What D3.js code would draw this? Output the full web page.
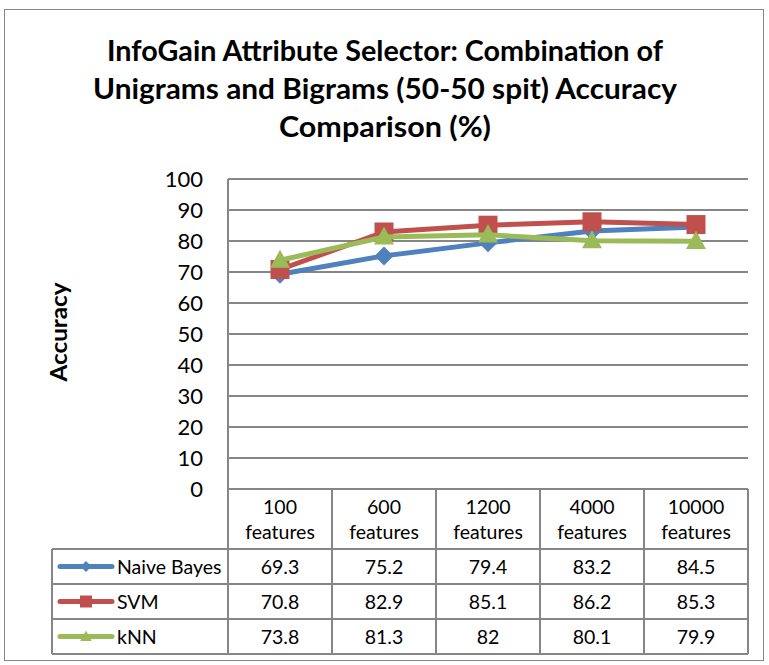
<!DOCTYPE html>
<html>
<head>
<meta charset="utf-8">
<script src="https://cdn.jsdelivr.net/npm/d3@7"></script>
<style>
  body { margin: 0; background: #fff; }
  svg { display: block; font-family: Lato, "Open Sans", sans-serif; }
</style>
</head>
<body>
<div id="chart"></div>
<script>
// Chart data
const categories = ["100 features", "600 features", "1200 features", "4000 features", "10000 features"];
const seriesNames = ["Naive Bayes", "SVM", "kNN"];
const naiveBayes = [69.3, 75.2, 79.4, 83.2, 84.5];
const svmValues = [70.8, 82.9, 85.1, 86.2, 85.3];
const knnValues = [73.8, 81.3, 82, 80.1, 79.9];
const yTicks = [0, 10, 20, 30, 40, 50, 60, 70, 80, 90, 100];
const titleLines = ["InfoGain Attribute Selector: Combination of", "Unigrams and Bigrams (50-50 spit) Accuracy", "Comparison (%)"];

const width = 769, height = 665;
const plot = { left: 228, right: 748, top: 179, bottom: 489 };
const tableLeft = 52;
const rowLines = [489, 549, 584, 619, 654];

const series = [
    { name: seriesNames[0], values: naiveBayes, color: "#4F81BD", marker: "diamond" },
    { name: seriesNames[1], values: svmValues, color: "#C0504D", marker: "square" },
    { name: seriesNames[2], values: knnValues, color: "#9BBB59", marker: "triangle" }
];

const svg = d3.select("#chart").append("svg")
    .attr("width", width)
    .attr("height", height);

// outer frame
svg.append("rect")
    .attr("x", 4.5).attr("y", 9.5)
    .attr("width", 759).attr("height", 651)
    .attr("fill", "#fff")
    .attr("stroke", "#868686");

// title
const title = svg.append("g").attr("font-weight", "bold").attr("font-size", 28).attr("text-anchor", "middle");
const titleWidths = [556, 584, 212];
titleLines.forEach((t, i) => {
    title.append("text")
        .attr("x", 385)
        .attr("y", 61 + i * 38)
        .attr("textLength", titleWidths[i])
        .attr("lengthAdjust", "spacingAndGlyphs")
        .text(t);
});

// scales
const x = d3.scaleBand().domain(categories).range([plot.left, plot.right]);
const y = d3.scaleLinear().domain([0, 100]).range([plot.bottom, plot.top]);

// gridlines
svg.append("g")
    .selectAll("line")
    .data(yTicks)
    .enter().append("line")
    .attr("x1", plot.left).attr("x2", plot.right)
    .attr("y1", d => y(d)).attr("y2", d => y(d))
    .attr("stroke", "#868686")
    .attr("stroke-width", 2);

// left axis line
svg.append("line")
    .attr("x1", plot.left).attr("x2", plot.left)
    .attr("y1", plot.top).attr("y2", plot.bottom)
    .attr("stroke", "#868686").attr("stroke-width", 2);

// y tick labels
svg.append("g")
    .attr("text-anchor", "end")
    .attr("font-size", 22)
    .selectAll("text")
    .data(yTicks)
    .enter().append("text")
    .attr("x", 203)
    .attr("y", d => y(d))
    .attr("dy", "0.36em")
    .text(d => d);

// y axis title
svg.append("text")
    .attr("transform", "translate(67,332) rotate(-90)")
    .attr("text-anchor", "middle")
    .attr("font-weight", "bold")
    .attr("font-size", 23)
    .attr("textLength", 99)
    .attr("lengthAdjust", "spacingAndGlyphs")
    .text("Accuracy");

// data table grid
const tbl = svg.append("g").attr("stroke", "#868686").attr("stroke-width", 2);
rowLines.forEach((ry, i) => {
    tbl.append("line")
        .attr("x1", i === 0 ? plot.left : tableLeft).attr("x2", plot.right)
        .attr("y1", ry).attr("y2", ry);
});
tbl.append("line").attr("x1", tableLeft).attr("x2", tableLeft)
    .attr("y1", rowLines[1]).attr("y2", rowLines[4]);
categories.forEach((c, i) => {
    tbl.append("line")
        .attr("x1", x(c)).attr("x2", x(c))
        .attr("y1", plot.bottom).attr("y2", rowLines[4]);
});
tbl.append("line").attr("x1", plot.right).attr("x2", plot.right)
    .attr("y1", plot.bottom).attr("y2", rowLines[4]);

// header labels
const header = svg.append("g").attr("text-anchor", "middle").attr("font-size", 19.5);
categories.forEach(c => {
    const parts = c.split(" ");
    parts.forEach((p, j) => {
        header.append("text")
            .attr("x", x(c) + x.bandwidth() / 2)
            .attr("y", 507 + j * 25)
            .attr("dy", "0.36em")
            .text(p);
    });
});

// marker paths
function markerPath(type, cx, cy, s) {
    if (type === "diamond") return `M${cx},${cy - s}L${cx + s},${cy}L${cx},${cy + s}L${cx - s},${cy}Z`;
    if (type === "square") return `M${cx - s},${cy - s}h${2 * s}v${2 * s}h${-2 * s}Z`;
    return `M${cx},${cy - s * 1.1}L${cx + s * 1.05},${cy + s * 0.8}L${cx - s * 1.05},${cy + s * 0.8}Z`;
}

// rows of the table with legend keys
series.forEach((s, i) => {
    const cy = (rowLines[i + 1] + rowLines[i + 2]) / 2;
    const row = svg.append("g");
    row.append("line")
        .attr("x1", 60).attr("x2", 112)
        .attr("y1", cy).attr("y2", cy)
        .attr("stroke", s.color).attr("stroke-width", 5)
        .attr("stroke-linecap", "round");
    row.append("path")
        .attr("d", markerPath(s.marker, 86, cy, s.marker === "square" ? 6 : 5.5))
        .attr("fill", s.color);
    row.append("text")
        .attr("x", 117).attr("y", cy).attr("dy", "0.36em")
        .attr("font-size", 19.5)
        .text(s.name);
    row.selectAll("text.val")
        .data(s.values)
        .enter().append("text")
        .attr("class", "val")
        .attr("x", (d, j) => x(categories[j]) + x.bandwidth() / 2)
        .attr("y", cy).attr("dy", "0.36em")
        .attr("text-anchor", "middle")
        .attr("font-size", 19.5)
        .text(d => d);
});

// series lines and markers
const line = d3.line()
    .x((d, i) => x(categories[i]) + x.bandwidth() / 2)
    .y(d => y(d));

series.forEach(s => {
    const g = svg.append("g");
    g.append("path")
        .datum(s.values)
        .attr("d", line)
        .attr("fill", "none")
        .attr("stroke", s.color)
        .attr("stroke-width", 5)
        .attr("stroke-linejoin", "round");
    g.selectAll("path.mk")
        .data(s.values)
        .enter().append("path")
        .attr("class", "mk")
        .attr("d", (d, i) => markerPath(s.marker, x(categories[i]) + x.bandwidth() / 2, y(d), 9.5))
        .attr("fill", s.color);
});
</script>
</body>
</html>
